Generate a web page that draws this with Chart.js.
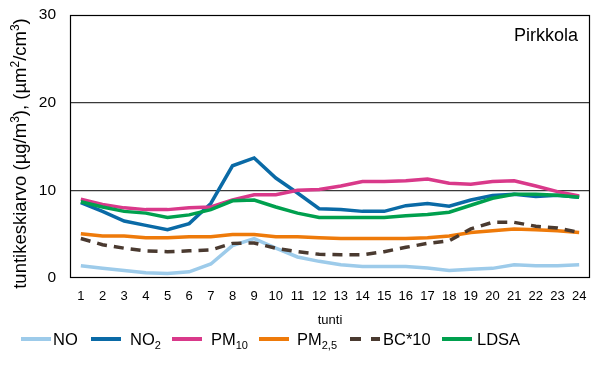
<!DOCTYPE html>
<html>
<head>
<meta charset="utf-8">
<script src="https://cdn.jsdelivr.net/npm/chart.js@4/dist/chart.umd.min.js"></script>
<style>
  html, body { margin: 0; padding: 0; background: #fff; }
  #wrap { position: relative; width: 606px; height: 368px; font-family: "Liberation Sans", Arial, sans-serif; }
  #c { position: absolute; left: 0; top: 0; }
  #legend { position: absolute; left: 0; top: 329px; width: 606px; height: 20px; font-size: 16.5px; color: #000; white-space: nowrap; }
  .swatch { position: absolute; top: 8px; width: 30px; height: 4px; }
  .lbl { position: absolute; top: 0; line-height: 20px; }
  .lbl sub { font-size: 11px; vertical-align: -4px; line-height: 0; }
</style>
</head>
<body>
<div id="wrap">
  <canvas id="c" width="606" height="368"></canvas>
  <div id="legend"></div>
</div>
<script>
const hours = ['1','2','3','4','5','6','7','8','9','10','11','12','13','14','15','16','17','18','19','20','21','22','23','24'];
const yTicks = [0, 10, 20, 30];

const noValues   = [1.4, 1.1, 0.85, 0.6, 0.5, 0.7, 1.6, 3.7, 4.5, 3.4, 2.4, 1.9, 1.5, 1.3, 1.3, 1.3, 1.15, 0.85, 1.0, 1.1, 1.5, 1.4, 1.4, 1.5];
const no2Values  = [8.6, 7.6, 6.5, 6.0, 5.5, 6.2, 8.5, 12.8, 13.7, 11.4, 9.7, 7.9, 7.8, 7.6, 7.6, 8.25, 8.5, 8.2, 8.9, 9.4, 9.55, 9.3, 9.45, 9.2];
const pm10Values = [9.0, 8.4, 8.0, 7.8, 7.8, 8.0, 8.1, 8.9, 9.5, 9.5, 10.0, 10.1, 10.5, 11.0, 11.0, 11.1, 11.3, 10.8, 10.7, 11.0, 11.1, 10.5, 9.85, 9.35];
const pm25Values = [5.05, 4.8, 4.8, 4.6, 4.6, 4.7, 4.7, 4.95, 4.95, 4.7, 4.7, 4.6, 4.5, 4.5, 4.5, 4.5, 4.6, 4.8, 5.2, 5.4, 5.6, 5.5, 5.4, 5.2];
const bcValues   = [4.5, 3.8, 3.4, 3.1, 3.0, 3.1, 3.2, 3.95, 4.0, 3.4, 3.0, 2.7, 2.65, 2.65, 3.0, 3.5, 3.95, 4.25, 5.6, 6.35, 6.35, 5.9, 5.7, 5.2];
const ldsaValues = [8.7, 8.1, 7.6, 7.4, 6.9, 7.2, 7.8, 8.8, 8.9, 8.1, 7.4, 6.9, 6.9, 6.9, 6.9, 7.1, 7.25, 7.5, 8.3, 9.1, 9.55, 9.55, 9.45, 9.2];

const seriesNames = ['NO', 'NO₂', 'PM₁₀', 'PM₂,₅', 'BC*10', 'LDSA'];
const seriesHtml  = ['NO', 'NO<sub>2</sub>', 'PM<sub>10</sub>', 'PM<sub>2,5</sub>', 'BC*10', 'LDSA'];
const stationName = 'Pirkkola';
const xTitle = 'tunti';
// y-axis title pieces: [text, isSuperscript]
const yTitleParts = [['tuntikeskiarvo (µg/m', false], ['3', true], ['), (µm', false], ['2', true], ['/cm', false], ['3', true], [')', false]];

const colors = ['#9DCBEA', '#0A6AA6', '#D9398A', '#EE7A0A', '#4A3A30', '#00A04E'];
const valueSets = [noValues, no2Values, pm10Values, pm25Values, bcValues, ldsaValues];

// legend layout (styling only): swatch left edge and label left edge, px
const legendSwatchX = [21, 91, 172, 259, 350, 442];
const legendLabelX  = [53, 130, 211, 297, 383, 477];

const FONT = '"Liberation Sans", Arial, sans-serif';

const datasets = valueSets.map((vals, i) => ({
  label: seriesNames[i],
  data: vals,
  borderColor: colors[i],
  backgroundColor: colors[i],
  borderWidth: 3.5,
  borderDash: i === 4 ? [10, 7] : [],
  pointRadius: 0,
  pointHoverRadius: 0,
  tension: 0,
  fill: false,
  order: 6 - i
}));

const frame = {
  id: 'frame',
  beforeDatasetsDraw(chart) {
    const a = chart.chartArea, ctx = chart.ctx;
    ctx.save();
    ctx.strokeStyle = '#000';
    ctx.lineWidth = 1.2;
    ctx.strokeRect(a.left + 0.5, a.top + 0.5, a.right - a.left - 1, a.bottom - a.top - 1);
    ctx.restore();
  },
  afterDraw(chart) {
    const a = chart.chartArea, ctx = chart.ctx;
    ctx.save();
    ctx.fillStyle = '#000';
    ctx.font = '18px ' + FONT;
    ctx.textAlign = 'right';
    ctx.textBaseline = 'alphabetic';
    ctx.fillText(stationName, a.right - 12, a.top + 26);
    ctx.restore();

    // rotated y-axis title with superscripts
    const big = '18.5px ' + FONT, small = '12px ' + FONT;
    ctx.save();
    let total = 0;
    yTitleParts.forEach(([t, sup]) => { ctx.font = sup ? small : big; total += ctx.measureText(t).width; });
    const cy = (a.top + a.bottom) / 2 + 7;
    ctx.translate(26, cy);
    ctx.rotate(-Math.PI / 2);
    ctx.fillStyle = '#000';
    ctx.textAlign = 'left';
    ctx.textBaseline = 'alphabetic';
    let x = -total / 2;
    yTitleParts.forEach(([t, sup]) => {
      ctx.font = sup ? small : big;
      ctx.fillText(t, x, sup ? -7 : 0);
      x += ctx.measureText(t).width;
    });
    ctx.restore();
  }
};

new Chart(document.getElementById('c'), {
  type: 'line',
  data: { labels: hours, datasets },
  options: {
    responsive: false,
    animation: false,
    events: [],
    layout: { padding: { top: 15, right: 16, bottom: 40, left: 0 } },
    plugins: { legend: { display: false }, tooltip: { enabled: false } },
    scales: {
      x: {
        type: 'category',
        offset: true,
        grid: { display: false, drawTicks: false },
        border: { display: false },
        ticks: { color: '#000', font: { family: FONT, size: 13 }, padding: 11, maxRotation: 0, autoSkip: false },
        title: { display: true, text: xTitle, color: '#000', font: { family: FONT, size: 13 }, padding: 0 },
        afterFit(s) { s.height = 50; }
      },
      y: {
        min: 0, max: 30,
        afterBuildTicks(s) { s.ticks = yTicks.map(v => ({ value: v })); },
        grid: {
          drawTicks: false,
          color: ctx => (ctx.tick && (ctx.tick.value === 10 || ctx.tick.value === 20)) ? '#3a3a3a' : 'rgba(0,0,0,0)',
          lineWidth: 1.2
        },
        border: { display: false },
        ticks: { color: '#000', font: { family: FONT, size: 15.5 }, padding: 14 },
        title: { display: false },
        afterFit(s) { s.width = 70; s.paddingTop = 0; s.paddingBottom = 0; }
      }
    }
  },
  plugins: [frame]
});

const legend = document.getElementById('legend');
seriesHtml.forEach((html, i) => {
  const sw = document.createElement('div');
  sw.className = 'swatch';
  sw.style.left = legendSwatchX[i] + 'px';
  if (i === 4) {
    sw.style.background = `repeating-linear-gradient(to right, ${colors[i]} 0 11px, transparent 11px 21px)`;
  } else {
    sw.style.background = colors[i];
  }
  const lb = document.createElement('span');
  lb.className = 'lbl';
  lb.style.left = legendLabelX[i] + 'px';
  lb.innerHTML = html;
  legend.appendChild(sw);
  legend.appendChild(lb);
});
</script>
</body>
</html>
